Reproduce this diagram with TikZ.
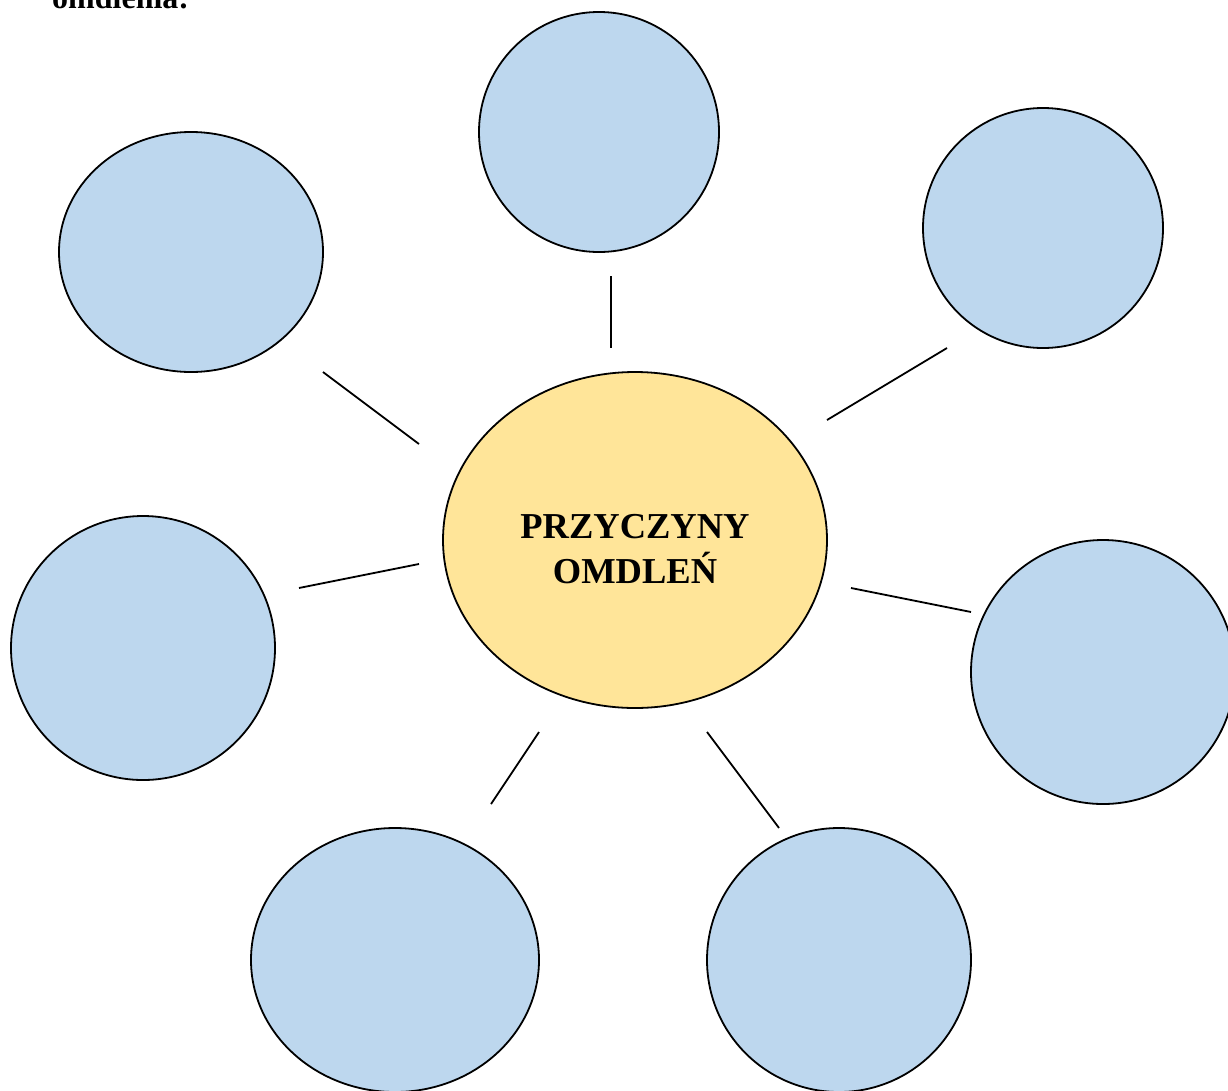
\documentclass[tikz,border=0pt]{standalone}
\usepackage{fontspec}
\setmainfont{Liberation Serif}
\definecolor{bluefill}{HTML}{BDD7EE}
\definecolor{yellowfill}{HTML}{FFE599}
\begin{document}
\begin{tikzpicture}[x=1pt,y=-1pt,
  bubble/.style={draw=black,line width=1.8pt,fill=bluefill},
  hub/.style={draw=black,line width=1.8pt,fill=yellowfill},
  spoke/.style={draw=black,line width=1.8pt}]
\useasboundingbox (0,0) rectangle (1228,1090);
\node[anchor=base west,font=\bfseries\fontsize{32}{36}\selectfont,inner sep=0pt] (head) at (52,8) {omdlenia:};
% bubbles
\draw[bubble] (599,132) ellipse [x radius=120,y radius=120];
\draw[bubble] (191,252) ellipse [x radius=132,y radius=120];
\draw[bubble] (1043,228) ellipse [x radius=120,y radius=120];
\draw[bubble] (143,648) ellipse [x radius=132,y radius=132];
\draw[bubble] (1103,672) ellipse [x radius=132,y radius=132];
\draw[bubble] (395,960) ellipse [x radius=144,y radius=132];
\draw[bubble] (839,960) ellipse [x radius=132,y radius=132];
% hub
\draw[hub] (635,540) ellipse [x radius=192,y radius=168];
\node[align=center,font=\bfseries\fontsize{36.5}{45}\selectfont] (hubtext) at (635,549) {PRZYCZYNY\\OMDLEŃ};
% spokes
\coordinate (a1) at (611,276); \coordinate (a2) at (611,348);
\coordinate (b1) at (323,372); \coordinate (b2) at (419,444);
\coordinate (c1) at (947,348); \coordinate (c2) at (827,420);
\coordinate (d1) at (299,588); \coordinate (d2) at (419,564);
\coordinate (e1) at (851,588); \coordinate (e2) at (971,612);
\coordinate (f1) at (539,732); \coordinate (f2) at (491,804);
\coordinate (g1) at (707,732); \coordinate (g2) at (779,828);
\draw[spoke] (a1) -- (a2);
\draw[spoke] (b1) -- (b2);
\draw[spoke] (c1) -- (c2);
\draw[spoke] (d1) -- (d2);
\draw[spoke] (e1) -- (e2);
\draw[spoke] (f1) -- (f2);
\draw[spoke] (g1) -- (g2);
\end{tikzpicture}
\end{document}
